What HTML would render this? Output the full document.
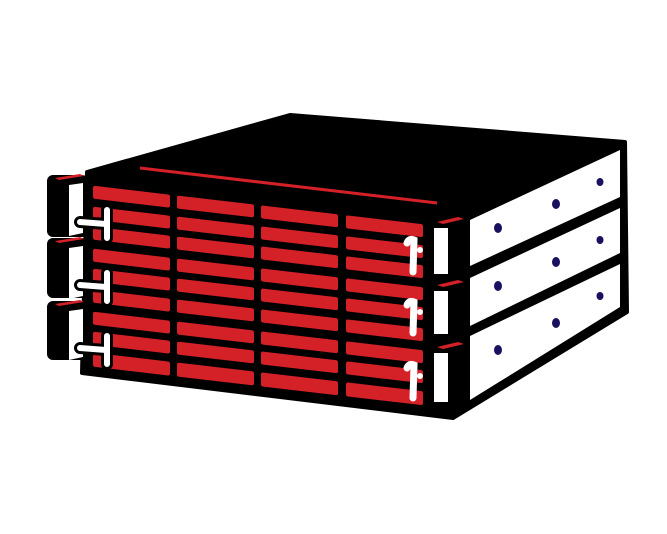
<!DOCTYPE html>
<html><head><meta charset="utf-8"><style>html,body{margin:0;padding:0;background:#fff}svg{display:block}</style></head>
<body>
<svg width="667" height="534" viewBox="0 0 667 534" xmlns="http://www.w3.org/2000/svg">
<polygon points="87,172 290,115 625,142 627,312 453,418 82,373" fill="#000" stroke="#000" stroke-width="4" stroke-linejoin="round"/>
<line x1="140" y1="168" x2="437" y2="203" stroke="#d42027" stroke-width="3"/>
<g fill="#fff">
<polygon points="470,220 620,150 620,197 470,266"/>
<polygon points="470,278 620,208 620,253 470,326"/>
<polygon points="470,336 620,264 620,307 470,400"/>
</g>
<g fill="#1a1060">
<ellipse cx="498" cy="228" rx="4" ry="5"/><ellipse cx="556" cy="204" rx="4" ry="5"/><ellipse cx="600" cy="182" rx="3.5" ry="4"/>
<ellipse cx="498" cy="286" rx="4" ry="5"/><ellipse cx="556" cy="262" rx="4" ry="5"/><ellipse cx="600" cy="240" rx="3.5" ry="4"/>
<ellipse cx="498" cy="350" rx="4" ry="5"/><ellipse cx="556" cy="323" rx="4" ry="5"/><ellipse cx="600" cy="296" rx="3.5" ry="4"/>
</g>
<g transform="matrix(1,0.117,0,1,0,-10.2)" fill="#d42027">
<g id="col">
<rect x="93" y="185" width="77" height="13" rx="2"/>
<rect x="93" y="206" width="77" height="13" rx="2"/>
<rect x="93" y="226" width="77" height="13" rx="2"/>
<rect x="93" y="248" width="77" height="13" rx="2"/>
<rect x="93" y="268" width="77" height="13" rx="2"/>
<rect x="93" y="289" width="77" height="13" rx="2"/>
<rect x="93" y="311" width="77" height="13" rx="2"/>
<rect x="93" y="331" width="77" height="13" rx="2"/>
<rect x="93" y="352" width="77" height="14" rx="2"/>
</g>
<use href="#col" x="84"/>
<use href="#col" x="168"/>
<use href="#col" x="253"/>
</g>
<g>
<rect x="47" y="175" width="41" height="62" rx="6" fill="#000"/>
<polygon points="69,185 83,183 83,233 69,236" fill="#fff"/>
<polygon points="55,178 80,174 84,176 59,180" fill="#d42027"/>
<rect x="47" y="238" width="41" height="60" rx="6" fill="#000"/>
<polygon points="69,248 83,246 83,296 69,299" fill="#fff"/>
<polygon points="55,241 80,237 84,239 59,243" fill="#d42027"/>
<rect x="47" y="301" width="41" height="59" rx="6" fill="#000"/>
<polygon points="69,311 83,309 83,357 69,360" fill="#fff"/>
<polygon points="55,304 80,300 84,302 59,306" fill="#d42027"/>
</g>
<g stroke="#000" stroke-width="12" stroke-linecap="round" fill="none">
<path d="M80,222 L106,224 M107,210 L107,238"/>
<path d="M80,285 L106,287 M107,273 L107,301"/>
<path d="M80,348 L106,350 M107,336 L107,364"/>
</g>
<g stroke="#fff" stroke-width="6" stroke-linecap="round" fill="none">
<path d="M80,222 L106,224 M107,210 L107,238"/>
<path d="M80,285 L106,287 M107,273 L107,301"/>
<path d="M80,348 L106,350 M107,336 L107,364"/>
</g>
<g>
<rect x="430" y="220" width="40" height="56" fill="#000"/>
<polygon points="434,228 448,228 448,274 434,274" fill="#fff"/>
<polygon points="437,222 458,217 464,219 443,224" fill="#d42027"/>
<rect x="430" y="282" width="40" height="56" fill="#000"/>
<polygon points="434,291 448,291 448,334 434,334" fill="#fff"/>
<polygon points="437,285 458,280 464,282 443,287" fill="#d42027"/>
<rect x="430" y="344" width="40" height="60" fill="#000"/>
<polygon points="434,353 448,353 448,402 434,402" fill="#fff"/>
<polygon points="437,347 458,342 464,344 443,349" fill="#d42027"/>
</g>
<g stroke="#fff" stroke-width="7" stroke-linecap="round" fill="none">
<path d="M407,243 Q409,238 414,240 L413,272"/>
<path d="M407,305 Q409,300 414,302 L413,333"/>
<path d="M407,368 Q409,363 414,365 L413,398"/>
</g>
<g fill="#fff">
<circle cx="420" cy="250" r="3"/><circle cx="420" cy="312" r="3"/><circle cx="420" cy="376" r="3"/>
</g>
</svg>
</body></html>
